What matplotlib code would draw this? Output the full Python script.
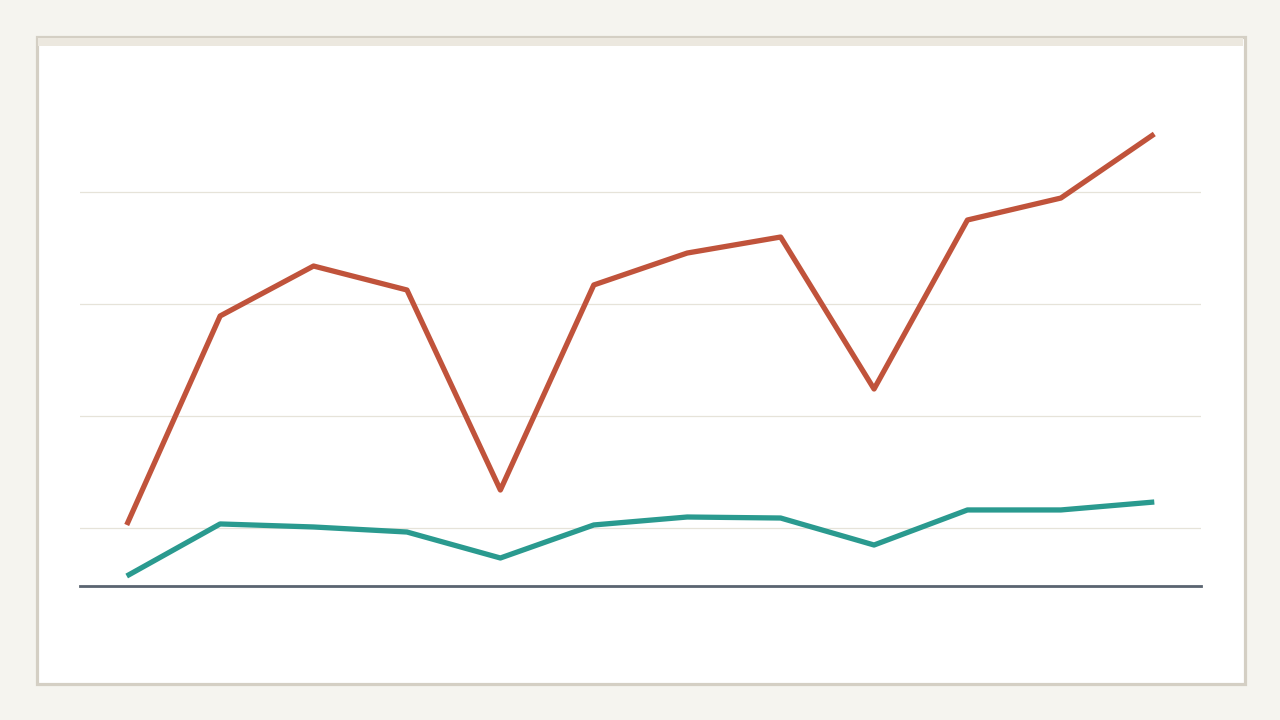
import matplotlib
matplotlib.use("Agg")
import matplotlib.pyplot as plt
from matplotlib.patches import Rectangle

# values
periods = list(range(1, 13))
series_a = [102.7, 289.3, 333.9, 312.5, 133.9, 317.0, 345.5, 359.8, 224.1, 375.0, 394.6, 451.8]
series_b = [57.1, 103.6, 100.9, 96.4, 73.2, 102.7, 109.8, 108.9, 84.8, 116.1, 116.1, 123.2]
grid_values = [100, 200, 300, 400]

W, H = 1280, 720
fig = plt.figure(figsize=(12.8, 7.2), dpi=100)
fig.patch.set_facecolor("#f5f4ef")

# card with border and top band
card = Rectangle((36.5 / W, 1 - 684 / H), 1208 / W, 647.5 / H, transform=fig.transFigure,
                 facecolor="white", edgecolor="#d4cfc4", linewidth=2.3, zorder=0)
fig.patches.append(card)
band = Rectangle((38 / W, 1 - 46 / H), 1205 / W, 8 / H, transform=fig.transFigure,
                 facecolor="#ece8df", edgecolor="none", zorder=1)
fig.patches.append(band)

ax = fig.add_axes([80 / W, (H - 586) / H, 1121 / W, (586 - 80) / H])
ax.set_zorder(5)
ax.set_facecolor("none")

ax.plot(periods, series_b, color="#2a9a8f", linewidth=3.8, solid_capstyle="butt", zorder=3)
ax.plot(periods, series_a, color="#c0533b", linewidth=3.8, solid_capstyle="butt", zorder=4)

for g in grid_values:
    ax.axhline(g, color="#e6e3d9", linewidth=0.9, zorder=1)

ax.set_xlim(0.5, 12.5)
ax.set_ylim(48.2, 500)

for s in ["top", "right", "left"]:
    ax.spines[s].set_visible(False)
ax.spines["bottom"].set_color("#5a6470")
ax.spines["bottom"].set_linewidth(2.0)
ax.set_xticks([])
ax.set_yticks([])

fig.savefig("out.png", dpi=100, facecolor=fig.get_facecolor())
